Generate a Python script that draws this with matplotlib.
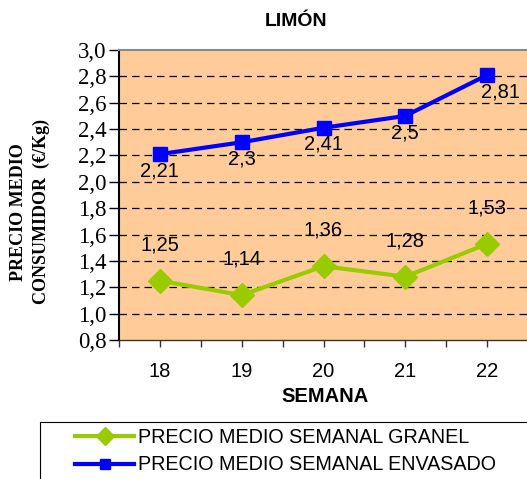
import matplotlib.pyplot as plt
from matplotlib.patches import Rectangle

semanas = ["18", "19", "20", "21", "22"]
granel = [1.25, 1.14, 1.36, 1.28, 1.53]
envasado = [2.21, 2.30, 2.41, 2.50, 2.81]
y_ticks = [0.8, 1.0, 1.2, 1.4, 1.6, 1.8, 2.0, 2.2, 2.4, 2.6, 2.8, 3.0]

fig = plt.figure(figsize=(5.27, 4.79), dpi=100)
ax = fig.add_axes([119 / 527, 1 - 340 / 479, 409 / 527, 290 / 479])
ax.set_facecolor("#FFCC99")

x = list(range(len(semanas)))
ax.plot(x, granel, color="#99CC00", lw=3, marker="D", ms=12,
        label="PRECIO MEDIO SEMANAL GRANEL", zorder=3)
ax.plot(x, envasado, color="#0000FF", lw=3, marker="s", ms=9.5,
        label="PRECIO MEDIO SEMANAL ENVASADO", zorder=3)

def fmt(v):
    s = ("%.2f" % v).rstrip("0").rstrip(".")
    return s.replace(".", ",")

for xi, v in zip(x, granel):
    ax.annotate(fmt(v), (xi, v), xytext=(0, 26), textcoords="offset points",
                ha="center", va="center", fontsize=14.5, family="Liberation Sans")
for xi, v in zip(x, envasado):
    dx = 10 if xi == 4 else 0
    ax.annotate(fmt(v), (xi, v), xytext=(dx, -12), textcoords="offset points",
                ha="center", va="center", fontsize=14.5, family="Liberation Sans")

ax.set_xlim(-0.5, 4.5)
ax.set_ylim(0.8, 3.0)
ax.set_yticks(y_ticks)
ax.set_yticklabels([("%.1f" % v).replace(".", ",") for v in y_ticks])
ax.set_xticks(x)
ax.set_xticklabels(semanas)
ax.set_xticks([-0.5, 0.5, 1.5, 2.5, 3.5], minor=True)
ax.tick_params(axis="x", which="both", length=5, width=1, direction="out",
               color="#333333")
ax.tick_params(axis="x", which="major", pad=11,
               labelsize=14.5, labelfontfamily="Liberation Sans")
ax.tick_params(axis="y", length=7, width=1, direction="out", pad=2,
               labelsize=16.5, labelfontfamily="Liberation Serif")

for v in y_ticks[1:-1]:
    ax.axhline(v, color="black", lw=0.9, ls=(0, (6, 4)), zorder=1)

ax.spines["right"].set_visible(False)
ax.spines["top"].set_color("#888888")
ax.spines["top"].set_linewidth(1.5)
ax.spines["left"].set_linewidth(1.5)
ax.spines["bottom"].set_linewidth(1)
ax.spines["bottom"].set_color("#333333")

fig.text(296 / 527, 1 - 22 / 479, "LIMÓN", ha="center", va="center",
         fontsize=14, fontweight="bold", family="Liberation Sans")
fig.text(325 / 527, 1 - 397 / 479, "SEMANA", ha="center", va="center",
         fontsize=14.5, fontweight="bold", family="Liberation Sans")
fig.text(30 / 527, 1 - 212 / 479, "PRECIO MEDIO\nCONSUMIDOR  (€/Kg)", rotation=90,
         ha="center", va="center", fontsize=13, fontweight="bold",
         family="Liberation Serif", linespacing=1.45)

# legend frame runs off the right and bottom edges, as in the original
fig.patches.append(Rectangle((40 / 527, -0.05), 1.0, 1 - 422 / 479 + 0.05,
                             transform=fig.transFigure, fill=False,
                             edgecolor="black", lw=0.8))
leg = fig.legend(loc="center left", bbox_to_anchor=(75 / 527, 1 - 451 / 479),
                 prop={"family": "Liberation Sans", "size": 14.2},
                 frameon=False, handlelength=3.0, labelspacing=0.45,
                 handletextpad=0.2, borderpad=0, borderaxespad=0,
                 markerscale=0.75)

fig.savefig("out.png", dpi=100)
